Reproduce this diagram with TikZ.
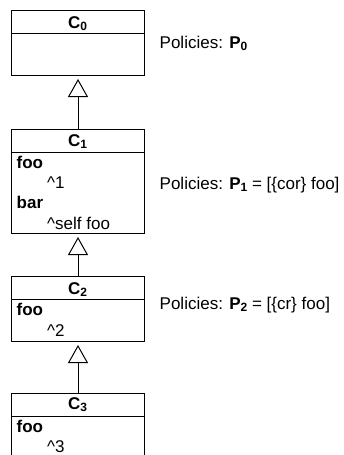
\documentclass[tikz,border=0pt]{standalone}
\usepackage{fontspec}
\setmainfont{Liberation Sans}
\usetikzlibrary{arrows.meta}
\newcommand{\mysub}[1]{\raisebox{-2pt}{\fontsize{12}{12}\selectfont #1}}
\tikzset{
  classbox/.style={draw, line width=1pt, rectangle, inner sep=0pt, anchor=north west, minimum width=133pt},
  txt/.style={inner sep=0pt, anchor=base west, font=\fontsize{17}{20}\selectfont},
  head/.style={inner sep=0pt, anchor=base, font=\fontsize{17}{20}\selectfont\bfseries},
  bodyb/.style={txt, font=\fontsize{17}{20}\selectfont\bfseries},
  inh/.style={line width=1pt, -{Triangle[open, length=18pt, width=20pt, line width=1pt]}, shorten >=3pt, fill=white},
  sepline/.style={line width=1pt}
}
\begin{document}
\begin{tikzpicture}[x=1pt, y=-1pt]
\clip (0,0) rectangle (344,455);
\useasboundingbox (0,0) rectangle (344,455);
% classes
\node[classbox, minimum height=65pt] (c0) at (11,10) {};
\node[classbox, minimum height=104pt] (c1) at (11,129) {};
\node[classbox, minimum height=65pt] (c2) at (11,276) {};
\node[classbox, minimum height=85pt] (c3) at (11,393) {};
% header lines
\draw[sepline] (11,33) -- (144,33);
\draw[sepline] (11,152) -- (144,152);
\draw[sepline] (11,299.5) -- (144,299.5);
\draw[sepline] (11,416) -- (144,416);
% headers
\node[head] (h0) at (77.5,28) {C\mysub{0}};
\node[head] (h1) at (77.5,146) {C\mysub{1}};
\node[head] (h2) at (77.5,294) {C\mysub{2}};
\node[head] (h3) at (77.5,409.5) {C\mysub{3}};
% bodies
\node[bodyb] (f1) at (16.5,168) {foo};
\node[txt] (r1) at (47,188) {\textasciicircum 1};
\node[bodyb] (b1) at (16.5,208.5) {bar};
\node[txt] (s1) at (47,229) {\textasciicircum self foo};
\node[bodyb] (f2) at (16.5,315) {foo};
\node[txt] (r2) at (47,336) {\textasciicircum 2};
\node[bodyb] (f3) at (16.5,432) {foo};
\node[txt] (r3) at (47,452.5) {\textasciicircum 3};
% policies
\node[txt] (p0) at (159.5,48) {Policies: \textbf{P\mysub{0}}};
\node[txt] (p1) at (159.5,189) {Policies: \textbf{P\mysub{1}} = [\{cor\} foo]};
\node[txt] (p2) at (159.5,309) {Policies: \textbf{P\mysub{2}} = [\{cr\} foo]};
% inheritance
\draw[inh] (c1.north) -- (c0.south);
\draw[inh] (c2.north) -- (c1.south);
\draw[inh] (c3.north) -- (c2.south);
\end{tikzpicture}
\end{document}
